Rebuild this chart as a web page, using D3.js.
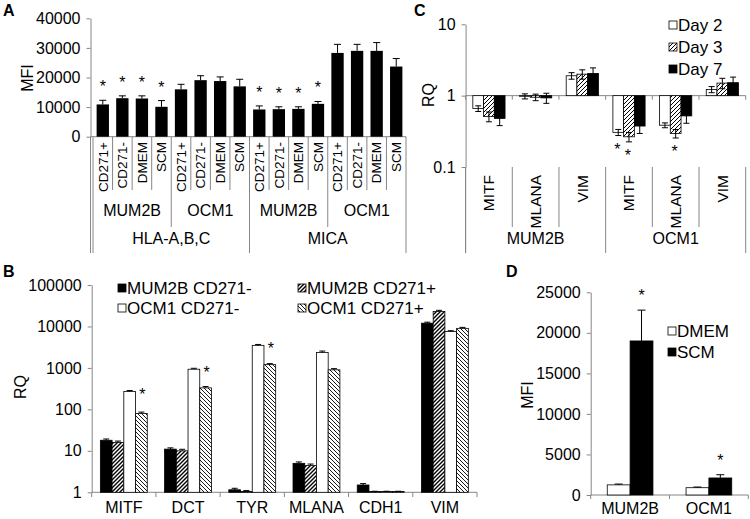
<!DOCTYPE html>
<html><head><meta charset="utf-8">
<script src="https://cdn.jsdelivr.net/npm/d3@7"></script>
<style>body{margin:0;background:#fff} svg{display:block} text{font-family:'Liberation Sans',Arial,sans-serif}</style>
</head><body>
<svg id="chart" width="750" height="519"></svg>
<script>
// ---------- Panel A data ----------
const aConditions = ["CD271+","CD271-","DMEM","SCM","CD271+","CD271-","DMEM","SCM","CD271+","CD271-","DMEM","SCM","CD271+","CD271-","DMEM","SCM"];
const aCellLines = ["MUM2B","OCM1","MUM2B","OCM1"];
const aMarkers = ["HLA-A,B,C","MICA"];
const aMFI = [10900,13000,12900,10100,16000,19100,18800,17000,9200,9300,9400,11100,28300,29000,29000,23700];
const aErr = [1400,800,900,2100,1700,1500,1400,2400,1200,800,700,800,2900,2200,2800,2700];
const aStar = [1,1,1,1,0,0,0,0,1,1,1,1,0,0,0,0];
const aTicks = [0,10000,20000,30000,40000];

// ---------- Panel B data ----------
const bGenes = ["MITF","DCT","TYR","MLANA","CDH1","VIM"];
const bSeries = ["MUM2B CD271-","MUM2B CD271+","OCM1 CD271-","OCM1 CD271+"];
const bMum2bNeg = [18, 11, 1.15, 5.0, 1.5, 12000];
const bMum2bPos = [16, 10, 1.05, 4.4, 1.04, 23000];
const bOcm1Neg = [270, 930, 3500, 2350, 1.04, 7600];
const bOcm1Pos = [80, 330, 1200, 900, 1.04, 9000];
const bMum2bNegErr = [1.3, 0.8, 0.1, 0.4, 0.12, 700];
const bMum2bPosErr = [1.2, 0.9, 0.05, 0.4, 0.02, 1500];
const bOcm1NegErr = [15, 50, 180, 200, 0.02, 300];
const bOcm1PosErr = [6, 25, 70, 60, 0.02, 500];
const bStar = [1,1,1,0,0,0];
const bTicks = [1,10,100,1000,10000,100000];

// ---------- Panel C data ----------
const cGenes = ["MITF","MLANA","VIM","MITF","MLANA","VIM"];
const cCellLines = ["MUM2B","OCM1"];
const cDays = ["Day 2","Day 3","Day 7"];
const cDay2 = [0.66, 0.98, 1.9, 0.306, 0.385, 1.22];
const cDay3 = [0.51, 0.95, 2.0, 0.265, 0.295, 1.5];
const cDay7 = [0.48, 0.93, 2.05, 0.375, 0.52, 1.52];
const cErr2 = [0.06, 0.08, 0.2, 0.03, 0.03, 0.12];
const cErr3 = [0.08, 0.1, 0.3, 0.04, 0.04, 0.25];
const cErr7 = [0.1, 0.15, 0.4, 0.08, 0.11, 0.3];
const cStar2 = [0,0,0,1,0,0];
const cStar3 = [0,0,0,1,1,0];
const cStar7 = [0,0,0,0,0,0];
const cTicks = [0.1,1,10];

// ---------- Panel D data ----------
const dCellLines = ["MUM2B","OCM1"];
const dSeries = ["DMEM","SCM"];
const dDMEM = [1250, 900];
const dDMEMErr = [100, 80];
const dSCM = [19000, 2100];
const dSCMErr = [3800, 400];
const dStarSCM = [1,1];
const dTicks = [0,5000,10000,15000,20000,25000];

// ---------- drawing ----------
const svg = d3.select("#chart");
const AX = "#868686";
const FS = 16;      // ticks, category labels, titles
const LFS = 17;     // legends
const defs = svg.append("defs");
function hatch(id, d, w){
  const p = defs.append("pattern").attr("id",id).attr("patternUnits","userSpaceOnUse").attr("width",4).attr("height",4);
  p.append("rect").attr("width",4).attr("height",4).attr("fill","#fff");
  p.append("path").attr("d",d).attr("stroke","#000").attr("stroke-width",w);
}
hatch("hFwd","M-1,1 l2,-2 M0,4 l4,-4 M3,5 l2,-2",1.4);
hatch("hBack","M-1,3 l2,2 M0,0 l4,4 M3,-1 l2,2",0.9);
hatch("hFwdL","M-1,1 l2,-2 M0,4 l4,-4 M3,5 l2,-2",1.0);

function styleAxis(g, fs){
  g.select(".domain").attr("stroke",AX);
  g.selectAll(".tick line").attr("stroke",AX);
  g.selectAll(".tick text").attr("font-size",fs).attr("fill","#000");
}
function vline(g,x,y1,y2){ g.append("line").attr("x1",x).attr("x2",x).attr("y1",y1).attr("y2",y2).attr("stroke",AX); }
function hline(g,y,x1,x2){ g.append("line").attr("x1",x1).attr("x2",x2).attr("y1",y).attr("y2",y).attr("stroke",AX); }
function txt(g,x,y,s,fs,anchor){
  return g.append("text").attr("x",x).attr("y",y).attr("font-size",fs).attr("text-anchor",anchor||"middle").attr("dy","0.35em").text(s);
}
function star(g,x,cy){ g.append("text").attr("x",x).attr("y",cy+9).attr("font-size",16).attr("text-anchor","middle").text("*"); }
function errBar(g,x,y1,y2,cap){
  g.append("line").attr("x1",x).attr("x2",x).attr("y1",y1).attr("y2",y2).attr("stroke","#000");
  g.append("line").attr("x1",x-cap/2).attr("x2",x+cap/2).attr("y1",y2).attr("y2",y2).attr("stroke","#000");
}
function panelLabel(x,y,s){ svg.append("text").attr("x",x).attr("y",y).attr("font-size",16).attr("font-weight","bold").text(s); }
function yTitle(x,y,s){ svg.append("text").attr("transform",`translate(${x},${y}) rotate(-90)`).attr("text-anchor","middle").attr("dy","0.35em").attr("font-size",FS).text(s); }

// ===== Panel A =====
{
  const g = svg.append("g");
  const x = d3.scaleBand().domain(d3.range(aMFI.length)).range([93,406]).paddingInner(0.37).paddingOuter(0.185);
  const y = d3.scaleLinear().domain([0,40000]).range([136.7,18.3]);
  const ax = g.append("g").attr("transform","translate(90.5,0)")
    .call(d3.axisLeft(y).tickValues(aTicks).tickSize(4).tickSizeOuter(0).tickPadding(6).tickFormat(d3.format("d")));
  styleAxis(ax,FS);
  vline(g,90.5,136.7,253);
  hline(g,136.7,90.5,406);
  const step = x.step(), x0 = 93;
  for(let i=0;i<=aMFI.length;i++){
    const bx = x0 + i*step;
    const y2 = (i%8===0) ? 253 : (i%4===0 ? 227 : 190);
    vline(g,bx,136.7,y2);
  }
  aMFI.forEach((v,i)=>{
    const cx = x(i)+x.bandwidth()/2;
    g.append("rect").attr("x",x(i)).attr("y",y(v)).attr("width",x.bandwidth()).attr("height",y(0)-y(v)).attr("fill","#000");
    errBar(g,cx,y(v),y(v+aErr[i]),7);
    if(aStar[i]) star(g,cx,y(v+aErr[i])-17);
    g.append("text").attr("transform",`translate(${cx},142) rotate(-90)`).attr("text-anchor","end").attr("dy","0.35em").attr("font-size",13.5).text(aConditions[i]);
  });
  aCellLines.forEach((s,j)=> txt(g, x0 + (j*4+2)*step, 210, s, FS));
  aMarkers.forEach((s,j)=> txt(g, x0 + (j*8+4)*step, 238, s, FS));
  yTitle(27,78,"MFI");
  panelLabel(3,16,"A");
}

// ===== Panel B =====
{
  const g = svg.append("g");
  const x = d3.scaleBand().domain(bGenes).range([91.7,477]).paddingInner(0.27).paddingOuter(0.135);
  const xi = d3.scaleBand().domain(bSeries).range([0,x.bandwidth()]);
  const y = d3.scaleLog().domain([1,100000]).range([492.3,285]);
  const ax = g.append("g").attr("transform","translate(91.7,0)")
    .call(d3.axisLeft(y).tickValues(bTicks).tickSize(4).tickSizeOuter(0).tickPadding(6).tickFormat(d3.format("d")));
  styleAxis(ax,FS);
  hline(g,492.3,91.7,477);
  const step = x.step();
  for(let i=0;i<=bGenes.length;i++) vline(g,91.7+i*step,492.3,497);
  const vals = [bMum2bNeg,bMum2bPos,bOcm1Neg,bOcm1Pos];
  const errs = [bMum2bNegErr,bMum2bPosErr,bOcm1NegErr,bOcm1PosErr];
  const fills = ["#000","url(#hFwd)","#fff","url(#hBack)"];
  bGenes.forEach((gene,i)=>{
    bSeries.forEach((s,k)=>{
      const v = vals[k][i], bx = x(gene)+xi(s), cx = bx+xi.bandwidth()/2;
      g.append("rect").attr("x",bx).attr("y",y(v)).attr("width",xi.bandwidth()).attr("height",y(1)-y(v))
        .attr("fill",fills[k]).attr("stroke","#000").attr("stroke-width",0.8);
      errBar(g,cx,y(v),y(v+errs[k][i]),6);
    });
    if(bStar[i]) star(g, x(gene)+xi(bSeries[3])+xi.bandwidth()/2+1, y(bOcm1Neg[i]));
    txt(g, x(gene)+x.bandwidth()/2, 507, gene, FS);
  });
  const leg = [[118,288],[298,288],[118,308],[298,308]];
  bSeries.forEach((s,k)=>{
    g.append("rect").attr("x",leg[k][0]).attr("y",leg[k][1]-4).attr("width",8).attr("height",8).attr("fill",fills[k]).attr("stroke","#000").attr("stroke-width",0.8);
    txt(g,leg[k][0]+9,leg[k][1],s,LFS,"start");
  });
  yTitle(20,387,"RQ");
  panelLabel(3,277,"B");
}

// ===== Panel C =====
{
  const g = svg.append("g");
  const x = d3.scaleBand().domain(d3.range(cGenes.length)).range([465.6,745.7]).paddingInner(0.31).paddingOuter(0.155);
  const xi = d3.scaleBand().domain(cDays).range([0,x.bandwidth()]);
  const y = d3.scaleLog().domain([0.1,10]).range([167,24.3]);
  const ax = g.append("g").attr("transform","translate(465.6,0)")
    .call(d3.axisLeft(y).tickValues(cTicks).tickSize(4).tickSizeOuter(0).tickPadding(6).tickFormat(d=>String(d)));
  styleAxis(ax,FS);
  vline(g,465.6,167,253);
  hline(g,y(1),465.6,745.7);
  const step = x.step();
  for(let i=0;i<=cGenes.length;i++){
    const bx = 465.6+i*step;
    vline(g,bx,y(1),y(1)+4);
    vline(g,bx,167,(i%3===0)?253:227);
  }
  const vals = [cDay2,cDay3,cDay7], errs = [cErr2,cErr3,cErr7], stars = [cStar2,cStar3,cStar7];
  const fills = ["#fff","url(#hFwdL)","#000"];
  cGenes.forEach((gene,i)=>{
    cDays.forEach((d,k)=>{
      const v = vals[k][i], bx = x(i)+xi(d), cx = bx+xi.bandwidth()/2;
      const top = Math.min(y(v),y(1)), h = Math.abs(y(v)-y(1));
      g.append("rect").attr("x",bx).attr("y",top).attr("width",xi.bandwidth()).attr("height",h)
        .attr("fill",fills[k]).attr("stroke","#000").attr("stroke-width",0.8);
      const e = errs[k][i];
      g.append("line").attr("x1",cx).attr("x2",cx).attr("y1",y(v-e)).attr("y2",y(v+e)).attr("stroke","#000");
      [v-e,v+e].forEach(w=> g.append("line").attr("x1",cx-3).attr("x2",cx+3).attr("y1",y(w)).attr("y2",y(w)).attr("stroke","#000"));
      if(stars[k][i]) star(g,cx-1,y(v-e)+10);
    });
    g.append("text").attr("transform",`translate(${x(i)+x.bandwidth()/2},175) rotate(-90)`).attr("text-anchor","end").attr("dy","0.35em").attr("font-size",15.5).text(gene);
  });
  cCellLines.forEach((s,j)=> txt(g,465.6+(j*3+1.5)*step,238,s,FS));
  cDays.forEach((d,k)=>{
    const ly = 25 + k*22;
    g.append("rect").attr("x",669).attr("y",ly-4).attr("width",8).attr("height",8).attr("fill",fills[k]).attr("stroke","#000").attr("stroke-width",0.8);
    txt(g,678,ly,d,LFS,"start");
  });
  yTitle(428,95,"RQ");
  panelLabel(414,16,"C");
}

// ===== Panel D =====
{
  const g = svg.append("g");
  const x = d3.scaleBand().domain(dCellLines).range([590.7,748.3]).paddingInner(0.42).paddingOuter(0.21);
  const xi = d3.scaleBand().domain(dSeries).range([0,x.bandwidth()]);
  const y = d3.scaleLinear().domain([0,25000]).range([495,292.3]);
  const ax = g.append("g").attr("transform","translate(590.7,0)")
    .call(d3.axisLeft(y).tickValues(dTicks).tickSize(4).tickSizeOuter(0).tickPadding(6).tickFormat(d3.format("d")));
  styleAxis(ax,FS);
  hline(g,495,590.7,748.3);
  for(let i=0;i<=dCellLines.length;i++) vline(g,590.7+i*x.step(),495,499);
  const vals = [dDMEM,dSCM], errs = [dDMEMErr,dSCMErr], fills = ["#fff","#000"];
  dCellLines.forEach((c,i)=>{
    dSeries.forEach((s,k)=>{
      const v = vals[k][i], bx = x(c)+xi(s), cx = bx+xi.bandwidth()/2;
      g.append("rect").attr("x",bx).attr("y",y(v)).attr("width",xi.bandwidth()).attr("height",y(0)-y(v))
        .attr("fill",fills[k]).attr("stroke","#000").attr("stroke-width",0.8);
      errBar(g,cx,y(v),y(v+errs[k][i]),8);
    });
    if(dStarSCM[i]) star(g, x(c)+xi("SCM")+xi.bandwidth()/2, y(dSCM[i]+dSCMErr[i])-18);
    txt(g,x(c)+x.bandwidth()/2,508,c,FS);
  });
  dSeries.forEach((s,k)=>{
    const ly = 331 + k*21;
    g.append("rect").attr("x",668).attr("y",ly-4).attr("width",8).attr("height",8).attr("fill",fills[k]).attr("stroke","#000").attr("stroke-width",0.8);
    txt(g,677,ly,s,LFS,"start");
  });
  yTitle(527,395,"MFI");
  panelLabel(506,277,"D");
}
</script>
</body></html>
